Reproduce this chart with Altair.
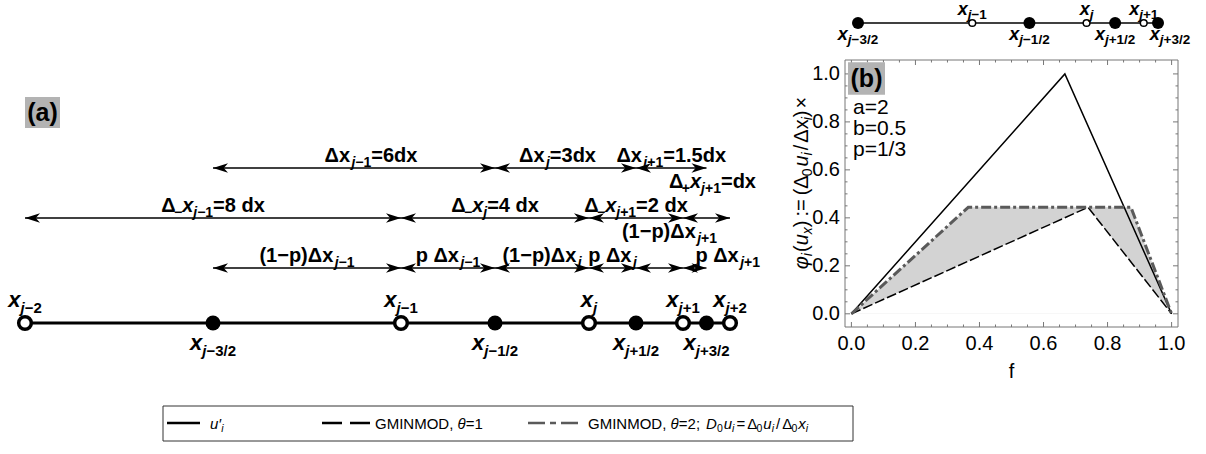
import altair as alt
import pandas as pd

W, H = 1206, 454
FONT = "Liberation Sans"

# ---------------- panel (a): a stretched grid, positions in units of dx ----------------
node_sub = ["j−2", "j−1", "j", "j+1", "j+2"]
node_pos = [0, 8, 12, 14, 15]
face_sub = ["j−3/2", "j−1/2", "j+1/2", "j+3/2"]
face_pos = [4, 10, 13, 14.5]

# cell widths Δx (face to face)
cell_from = [4, 10, 13]
cell_to = [10, 13, 14.5]
# node spacings Δ−x, and the forward spacing Δ+x of the last node
gap_from = [0, 8, 12, 14]
gap_to = [8, 12, 14, 15]
# each cell split at its node into (1−p)Δx and pΔx
part_from = [4, 8, 10, 12, 13, 14]
part_to = [8, 10, 12, 13, 14, 14.5]

# rich labels: (text, kind) pieces; kind b=base, bi=base italic, s=subscript, si=subscript italic
cell_labels = [
    [("Δx", "b"), 3, ("j", "si"), ("−1", "s"), ("=6dx", "b")],
    [("Δx", "b"), 3, ("j", "si"), ("=3dx", "b")],
    [("Δx", "b"), 3, ("j", "si"), ("+1", "s"), ("=1.5dx", "b")],
]
gap_labels = [
    [("Δ", "b"), ("−", "s"), ("x", "bi"), ("j", "si"), ("−1", "s"), ("=8 dx", "b")],
    [("Δ", "b"), ("−", "s"), ("x", "bi"), ("j", "si"), ("=4 dx", "b")],
    [("Δ", "b"), ("−", "s"), ("x", "bi"), ("j", "si"), ("+1", "s"), ("=2 dx", "b")],
    [("Δ", "b"), ("+", "s"), ("x", "bi"), ("j", "si"), ("+1", "s"), ("=dx", "b")],
]
part_labels = [
    [("(1−p)Δx", "b"), 3, ("j", "si"), ("−1", "s")],
    [("p Δx", "b"), 3, ("j", "si"), ("−1", "s")],
    [("(1−p)Δx", "b"), 3, ("j", "si")],
    [("p Δx", "b"), 3, ("j", "si")],
    [("(1−p)Δx", "b"), 3, ("j", "si"), ("+1", "s")],
    [("p Δx", "b"), 3, ("j", "si"), ("+1", "s")],
]
# horizontal / vertical nudges of the arrow labels (pixels)
cell_nudge = [(17, -6), (-8, -6), (0, -6)]
gap_nudge = [(0, -6), (0, -6), (0, -6), (6, -30)]
part_nudge = [(0, -6), (0, -6), (0, -6), (0, -6), (10, -30), (33, -6)]

# ---------------- panel (b): limiter functions of f ----------------
f_exact = [0, 2 / 3, 1]
phi_exact = [0, 1, 0]
f_theta1 = [0, 0.739, 1]
phi_theta1 = [0, 0.444, 0]
f_theta2 = [0, 0.365, 0.873, 1]
phi_theta2 = [0, 0.444, 0.444, 0]
tick_values = [0, 0.2, 0.4, 0.6, 0.8, 1.0]
param_text = ["a=2", "b=0.5", "p=1/3"]
y_title = [("φ", "bi"), ("i", "si"), 1, ("(", "b"), ("u", "bi"), ("x", "si"), (")", "b"), 4,
           (":=", "b"), 4, ("(Δ", "b"), ("0", "s"), 2, ("u", "bi"), ("i", "si"), 2, ("/", "b"),
           2, ("Δx", "b"), ("i", "si"), (")", "b"), 2, ("×", "b")]

legend_labels = [
    [("u′", "bi"), ("i", "si")],
    [("GMINMOD, ", "b"), ("θ", "bi"), ("=1", "b")],
    [("GMINMOD, ", "b"), ("θ", "bi"), ("=2;", "b"), 6, ("D", "bi"), ("0", "s"), 1, ("u", "bi"),
     ("i", "si"), 2, ("=", "b"), 2, ("Δ", "b"), ("0", "s"), 1, ("u", "bi"), ("i", "si"), 2,
     ("/", "b"), 2, ("Δ", "b"), ("0", "s"), 1, ("x", "bi"), ("i", "si")],
]

# ---------------- text metrics (Arial-compatible advance widths, em units) ----------------
BOLD_W = {" ": .278, "(": .333, ")": .333, "+": .584, "−": .584, ".": .278, "/": .278,
          "=": .584, "d": .611, "j": .278, "p": .611, "x": .556, "Δ": .64, ";": .333}
REG_W = {" ": .278, "(": .333, ")": .333, "+": .584, "−": .584, ".": .278, "/": .278,
         "=": .584, ";": .278, ",": .278, ":": .278, "G": .778, "M": .833, "I": .278,
         "N": .722, "O": .778, "D": .722, "θ": .556, "u": .556, "i": .222, "x": .5,
         "Δ": .62, "′": .19, "φ": .65, "×": .584}
for d in "0123456789":
    BOLD_W[d] = .556
    REG_W[d] = .556


def text_width(s, size, bold):
    table = BOLD_W if bold else REG_W
    return sum(table.get(c, 0.6) for c in s) * size


def layout_pieces(segs, base, sub, drop, bold):
    """Lay rich text out along its own baseline: (text, advance, drop, size, italic)."""
    pieces, cx = [], 0.0
    for seg in segs:
        if not isinstance(seg, tuple):
            cx += seg
            continue
        txt, kind = seg
        small = kind.startswith("s")
        size = sub if small else base
        pieces.append([txt, cx, drop if small else 0, size, kind.endswith("i")])
        cx += text_width(txt, size, bold)
    return pieces, cx


def rich_rows(segs, x, y, kx, ky, base, sub, drop, bold, dx=0, dy=0, center=True):
    """Rows of a horizontal label; kx, ky = pixels per data unit of the x / y scales."""
    pieces, total = layout_pieces(segs, base, sub, drop, bold)
    shift = dx - (total / 2 if center else 0)
    return [{"x": x + (adv + shift) / kx, "y": y - (dy + dr) / ky, "t": t, "fs": fs, "it": it,
             "ang": 0} for t, adv, dr, fs, it in pieces]


def rotated_rows(segs, x, y, kx, ky, base, sub, drop, bold):
    """Rows of a label read bottom to top, centred on (x, y)."""
    pieces, total = layout_pieces(segs, base, sub, drop, bold)
    return [{"x": x + dr / kx, "y": y + (adv - total / 2) / ky, "t": t, "fs": fs, "it": it,
             "ang": 270} for t, adv, dr, fs, it in pieces]


def lin(domain, rng):
    return alt.Scale(domain=domain, range=rng, nice=False, zero=False)


XA = lin([0, 15], [25, 730])
YA = lin([0, 3.1], [323, 168])
KXA, KYA = 705 / 15, 155 / 3.1
XS = lin([4, 14.5], [858, 1158])
YS = lin([0, 1], [23, 0])
KXS, KYS = 300 / 10.5, 23
B_LEFT, B_RIGHT, B_TOP, B_BOTTOM = 845, 1178, 60, 327
FX = [-0.02, 1.02]
PY = [-0.055, 1.058]
XB = lin(FX, [B_LEFT, B_RIGHT])
YB = lin(PY, [B_BOTTOM, B_TOP])
KXB = (B_RIGHT - B_LEFT) / (FX[1] - FX[0])
KYB = (B_BOTTOM - B_TOP) / (PY[1] - PY[0])
XP = lin([0, W], [0, W])
YP = lin([0, H], [0, H])

HEAD_R = "M0,0L-1,-0.32L-0.72,0L-1,0.32Z"
HEAD_L = "M0,0L1,-0.32L0.72,0L1,0.32Z"
TAG_BOX = "M-1,-0.88L1,-0.88L1,0.88L-1,0.88Z"


def text_layers(rows, xs, ys, weight, color="black"):
    df = pd.DataFrame(rows)
    out = []
    for italic in (False, True):
        for ang in (0, 270):
            part = df[(df["it"] == italic) & (df["ang"] == ang)].drop(columns=["it", "ang"])
            if part.empty:
                continue
            out.append(
                alt.Chart(part).mark_text(
                    align="left", baseline="alphabetic", font=FONT, fontWeight=weight,
                    fontStyle="italic" if italic else "normal", color=color, angle=ang
                ).encode(
                    x=alt.X("x:Q", scale=xs, axis=None),
                    y=alt.Y("y:Q", scale=ys, axis=None),
                    size=alt.Size("fs:Q", scale=None, legend=None),
                    text="t:N",
                )
            )
    return out


# ---------------- panel (a) ----------------
LEVEL = {"cell": 3.1, "gap": 2.1, "part": 1.1}


def arrow_layers(starts, ends, level):
    df = pd.DataFrame({"a": starts, "b": ends, "y": [level] * len(starts)})
    base = alt.Chart(df)
    yenc = alt.Y("y:Q", scale=YA, axis=None)
    shaft = base.mark_rule(color="black", strokeWidth=1.3).encode(
        x=alt.X("a:Q", scale=XA, axis=None), x2="b:Q", y=yenc)
    head_l = base.mark_point(shape=HEAD_L, filled=True, size=900, color="black",
                             opacity=1, strokeWidth=0).encode(
        x=alt.X("a:Q", scale=XA, axis=None), y=yenc)
    head_r = base.mark_point(shape=HEAD_R, filled=True, size=900, color="black",
                             opacity=1, strokeWidth=0).encode(
        x=alt.X("b:Q", scale=XA, axis=None), y=yenc)
    return [shaft, head_l, head_r]


a_layers = []
a_text = []
for starts, ends, labels, nudges, key in [
    (cell_from, cell_to, cell_labels, cell_nudge, "cell"),
    (gap_from, gap_to, gap_labels, gap_nudge, "gap"),
    (part_from, part_to, part_labels, part_nudge, "part"),
]:
    a_layers += arrow_layers(starts, ends, LEVEL[key])
    for s, e, lab, (ndx, ndy) in zip(starts, ends, labels, nudges):
        a_text += rich_rows(lab, (s + e) / 2, LEVEL[key], KXA, KYA, 20, 14, 5, True, ndx, ndy)

axis_line = alt.Chart(pd.DataFrame({"a": [node_pos[0]], "b": [node_pos[-1]], "y": [0]})).mark_rule(
    color="black", strokeWidth=3).encode(
    x=alt.X("a:Q", scale=XA, axis=None), x2="b:Q", y=alt.Y("y:Q", scale=YA, axis=None))
nodes_df = pd.DataFrame({"x": node_pos, "y": [0] * len(node_pos)})
faces_df = pd.DataFrame({"x": face_pos, "y": [0] * len(face_pos)})
face_dots = alt.Chart(faces_df).mark_circle(size=225, color="black", opacity=1).encode(
    x=alt.X("x:Q", scale=XA, axis=None), y=alt.Y("y:Q", scale=YA, axis=None))
node_rings = alt.Chart(nodes_df).mark_point(
    shape="circle", filled=True, fill="white", stroke="black", strokeWidth=3.5,
    size=160, opacity=1).encode(
    x=alt.X("x:Q", scale=XA, axis=None), y=alt.Y("y:Q", scale=YA, axis=None))

for s, p in zip(node_sub, node_pos):
    a_text += rich_rows([("x", "bi"), ("j", "si"), (s[1:], "s")], p, 0, KXA, KYA,
                        22, 15, 6, True, 0, -16)
for s, p in zip(face_sub, face_pos):
    a_text += rich_rows([("x", "bi"), ("j", "si"), (s[1:], "s")], p, 0, KXA, KYA,
                        22, 15, 6, True, 0, 27)

layer_a = alt.layer(*a_layers, axis_line, face_dots, node_rings,
                    *text_layers(a_text, XA, YA, "bold"))

# ---------------- strip of cells above panel (b) ----------------
strip_nodes = node_pos[1:4]
strip_node_sub = node_sub[1:4]
s_text = []
for s, p in zip(strip_node_sub, strip_nodes):
    s_text += rich_rows([("x", "bi"), ("j", "si"), (s[1:], "s")], p, 0, KXS, KYS,
                        18, 13.5, 4, True, 0, -8)
for i, (s, p) in enumerate(zip(face_sub, face_pos)):
    nudge = 12 if i == len(face_pos) - 1 else 0
    s_text += rich_rows([("x", "bi"), ("j", "si"), (s[1:], "s")], p, 0, KXS, KYS,
                        18, 13.5, 4, True, nudge, 17)

strip_line = alt.Chart(pd.DataFrame({"a": [face_pos[0]], "b": [face_pos[-1]], "y": [0]})).mark_rule(
    color="black", strokeWidth=1.5).encode(
    x=alt.X("a:Q", scale=XS, axis=None), x2="b:Q", y=alt.Y("y:Q", scale=YS, axis=None))
strip_faces = alt.Chart(faces_df).mark_circle(size=144, color="black", opacity=1).encode(
    x=alt.X("x:Q", scale=XS, axis=None), y=alt.Y("y:Q", scale=YS, axis=None))
strip_rings = alt.Chart(pd.DataFrame({"x": strip_nodes, "y": [0] * 3})).mark_point(
    shape="circle", filled=True, fill="white", stroke="black", strokeWidth=1.5,
    size=45, opacity=1).encode(
    x=alt.X("x:Q", scale=XS, axis=None), y=alt.Y("y:Q", scale=YS, axis=None))
layer_s = alt.layer(strip_line, strip_faces, strip_rings,
                    *text_layers(s_text, XS, YS, "bold"))

# ---------------- panel (b) ----------------
t1_df = pd.DataFrame({"f": f_theta1, "phi": phi_theta1})
t2_df = pd.DataFrame({"f": f_theta2, "phi": phi_theta2})
ex_df = pd.DataFrame({"f": f_exact, "phi": phi_exact})


def bxy(chart):
    return chart.encode(x=alt.X("f:Q", scale=XB, axis=None), y=alt.Y("phi:Q", scale=YB, axis=None))


shade = bxy(alt.Chart(t2_df).mark_area(color="#d3d3d3", opacity=1))
unshade = bxy(alt.Chart(t1_df).mark_area(color="white", opacity=1))
line_exact = bxy(alt.Chart(ex_df).mark_line(color="black", strokeWidth=1.5))
line_t1 = bxy(alt.Chart(t1_df).mark_line(color="black", strokeWidth=1.5, strokeDash=[10, 3]))
line_t2 = bxy(alt.Chart(t2_df).mark_line(color="#5a5a5a", strokeWidth=3,
                                         strokeDash=[10, 3, 3, 3]))
frame = alt.Chart(pd.DataFrame({"x": [FX[0]], "x2": [FX[1]], "y": [PY[0]], "y2": [PY[1]]})).mark_rect(
    filled=False, stroke="#777777", strokeWidth=1).encode(
    x=alt.X("x:Q", scale=XB, axis=None), x2="x2:Q",
    y=alt.Y("y:Q", scale=YB, axis=None), y2="y2:Q")

# inward frame ticks: major every 0.2, minor every 0.05
tick_rows = []
for k in range(21):
    v = k * 0.05
    length = 5 if k % 4 == 0 else 2.5
    lx, ly = length / KXB, length / KYB
    tick_rows += [
        {"x": v, "x2": v, "y": PY[0], "y2": PY[0] + ly},
        {"x": v, "x2": v, "y": PY[1], "y2": PY[1] - ly},
        {"x": FX[0], "x2": FX[0] + lx, "y": v, "y2": v},
        {"x": FX[1], "x2": FX[1] - lx, "y": v, "y2": v},
    ]
frame_ticks = alt.Chart(pd.DataFrame(tick_rows)).mark_rule(color="#777777", strokeWidth=1).encode(
    x=alt.X("x:Q", scale=XB, axis=None), x2="x2:Q",
    y=alt.Y("y:Q", scale=YB, axis=None), y2="y2:Q")

tick_lab = [f"{v:.1f}" for v in tick_values]
xlab = alt.Chart(pd.DataFrame({"v": tick_values, "y": [PY[0]] * 6, "t": tick_lab})).mark_text(
    font=FONT, fontSize=20, baseline="top", dy=7, color="black").encode(
    x=alt.X("v:Q", scale=XB, axis=None), y=alt.Y("y:Q", scale=YB, axis=None), text="t:N")
ylab = alt.Chart(pd.DataFrame({"v": tick_values, "x": [FX[0]] * 6, "t": tick_lab})).mark_text(
    font=FONT, fontSize=20, baseline="middle", align="right", dx=-5, color="black").encode(
    x=alt.X("x:Q", scale=XB, axis=None), y=alt.Y("v:Q", scale=YB, axis=None), text="t:N")
xtitle = alt.Chart(pd.DataFrame({"x": [0.5], "y": [PY[0]], "t": ["f"]})).mark_text(
    font=FONT, fontSize=20, baseline="top", dy=35, color="black").encode(
    x=alt.X("x:Q", scale=XB, axis=None), y=alt.Y("y:Q", scale=YB, axis=None), text="t:N")
# rotated title; its baseline sits just right of the glyph column centred near x = 803 px
b_text = rotated_rows(y_title, FX[0] - 37 / KXB, PY[0] + (B_BOTTOM - 183) / KYB, KXB, KYB,
                      20, 14, 4, False)

layer_b = alt.layer(shade, unshade, line_exact, line_t1, line_t2, frame, frame_ticks,
                    xlab, ylab, xtitle, *text_layers(b_text, XB, YB, "normal"))

# ---------------- tags, parameters and legend (page pixels) ----------------
tags = pd.DataFrame({"x": [42.5, 866.5], "y": [112.5, 78.5], "t": ["(a)", "(b)"],
                     "s": [1225, 1369]})
tag_boxes = alt.Chart(tags).mark_point(shape=TAG_BOX, filled=True, color="#b3b3b3",
                                       opacity=1, strokeWidth=0).encode(
    x=alt.X("x:Q", scale=XP, axis=None), y=alt.Y("y:Q", scale=YP, axis=None),
    size=alt.Size("s:Q", scale=None, legend=None))
tag_text = alt.Chart(tags).mark_text(font=FONT, fontWeight="bold", fontSize=25,
                                     baseline="middle", color="black").encode(
    x=alt.X("x:Q", scale=XP, axis=None), y=alt.Y("y:Q", scale=YP, axis=None), text="t:N")

param_df = pd.DataFrame({"x": [853] * 3, "y": [114, 135, 156], "t": param_text})
param_marks = alt.Chart(param_df).mark_text(font=FONT, fontSize=21, align="left",
                                            baseline="alphabetic", color="black").encode(
    x=alt.X("x:Q", scale=XP, axis=None), y=alt.Y("y:Q", scale=YP, axis=None), text="t:N")

legend_box = alt.Chart(pd.DataFrame({"x": [163], "x2": [853], "y": [406], "y2": [441]})).mark_rect(
    filled=False, stroke="#333333", strokeWidth=1).encode(
    x=alt.X("x:Q", scale=XP, axis=None), x2="x2:Q",
    y=alt.Y("y:Q", scale=YP, axis=None), y2="y2:Q")
sample_x0 = [167, 322, 528]
sample_x1 = [200, 370, 583]
label_x = [210, 375, 588]
sample_style = [("black", [1, 0]), ("black", [20, 8]), ("#5a5a5a", [17, 5, 6, 5])]
legend_layers = [legend_box]
leg_text = []
for x0, x1, lx, (col, dash), lab in zip(sample_x0, sample_x1, label_x, sample_style, legend_labels):
    legend_layers.append(
        alt.Chart(pd.DataFrame({"x": [x0], "x2": [x1], "y": [423]})).mark_rule(
            color=col, strokeWidth=2.5, strokeDash=dash).encode(
            x=alt.X("x:Q", scale=XP, axis=None), x2="x2:Q",
            y=alt.Y("y:Q", scale=YP, axis=None)))
    leg_text += rich_rows(lab, lx, 429, 1, -1, 15, 10.5, 3, False, center=False)

layer_p = alt.layer(tag_boxes, tag_text, param_marks, *legend_layers,
                    *text_layers(leg_text, XP, YP, "normal"))

chart = alt.layer(layer_a, layer_s, layer_b, layer_p).resolve_scale(
    x="independent", y="independent"
).properties(
    width=W, height=H, padding=0, background="white",
    autosize=alt.AutoSizeParams(type="none"),
).configure_view(stroke=None)

chart.save("out.html", embed_options={"renderer": "svg", "actions": False})
